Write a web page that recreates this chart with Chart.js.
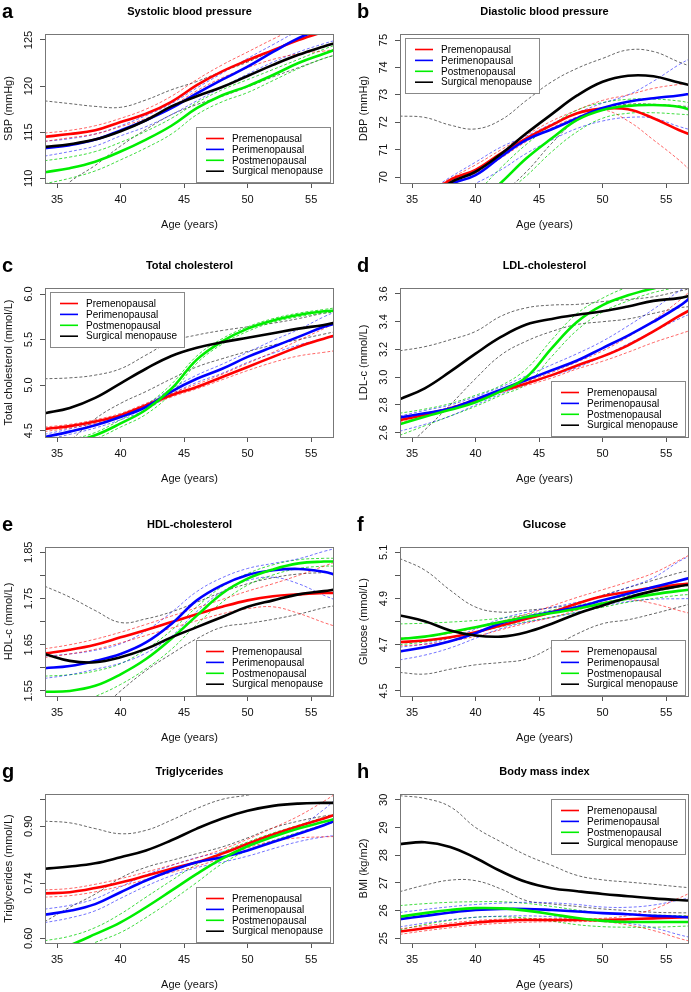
<!DOCTYPE html>
<html>
<head>
<meta charset="utf-8">
<script src="https://cdn.jsdelivr.net/npm/chart.js@4.4.1/dist/chart.umd.min.js"></script>
<style>
body { margin: 0; background: #fff; width: 691px; height: 992px; overflow: hidden; position: relative; }
canvas { position: absolute; }
</style>
</head>
<body>
<canvas id="pa" width="336" height="250" style="left:0;top:0"></canvas>
<canvas id="pb" width="336" height="250" style="left:355px;top:0"></canvas>
<canvas id="pc" width="336" height="250" style="left:0;top:254px"></canvas>
<canvas id="pd" width="336" height="250" style="left:355px;top:254px"></canvas>
<canvas id="pe" width="336" height="250" style="left:0;top:513px"></canvas>
<canvas id="pf" width="336" height="250" style="left:355px;top:513px"></canvas>
<canvas id="pg" width="336" height="250" style="left:0;top:760px"></canvas>
<canvas id="ph" width="336" height="250" style="left:355px;top:760px"></canvas>
<script>
var ages = [34, 36, 38, 40, 42, 44, 46, 48, 50, 52, 54, 56, 57];
var xTicks = [35, 40, 45, 50, 55];

var groupNames = ['Premenopausal', 'Perimenopausal', 'Postmenopausal', 'Surgical menopause'];
var groupColors = ['#ff0000', '#0000ff', '#00ee00', '#000000'];
var ciColors = ['rgba(255,0,0,0.6)', 'rgba(0,0,255,0.55)', 'rgba(0,210,0,0.75)', 'rgba(0,0,0,0.6)'];

// a - SBP
var sbpPre    = [114.5, 114.8, 115.2, 116.1, 117.0, 118.3, 120.1, 121.6, 122.8, 123.9, 125.0, 125.9, 126.3];
var sbpPreHi  = [114.9, 115.2, 115.7, 116.5, 117.5, 118.9, 120.7, 122.3, 123.7, 125.1, 126.4, 127.6, 128.2];
var sbpPreLo  = [114.0, 114.4, 114.8, 115.6, 116.5, 117.8, 119.5, 120.9, 122.0, 122.9, 123.5, 123.8, 124.0];
var sbpPeri   = [113.25, 113.6, 114.2, 115.2, 116.3, 117.6, 119.2, 120.7, 122.1, 123.7, 125.2, 126.3, 126.8];
var sbpPeriHi = [114.0, 114.3, 114.8, 115.7, 116.8, 118.1, 119.8, 121.4, 123.0, 124.5, 126.0, 127.3, 128.0];
var sbpPeriLo = [112.4, 112.9, 113.5, 114.6, 115.6, 116.9, 118.4, 119.9, 121.3, 122.6, 123.7, 124.6, 125.0];
var sbpPost   = [110.65, 111.1, 111.8, 112.9, 114.2, 115.7, 117.6, 119.0, 120.0, 121.2, 122.5, 123.5, 124.0];
var sbpPostHi = [111.9, 112.3, 112.9, 113.9, 115.1, 116.5, 118.2, 119.6, 120.7, 121.8, 122.9, 124.0, 124.5];
var sbpPostLo = [109.4, 110.0, 110.8, 112.0, 113.3, 114.8, 116.9, 118.3, 119.3, 120.6, 121.9, 123.0, 123.4];
var sbpSurg   = [113.4, 113.7, 114.2, 115.1, 116.3, 117.8, 118.9, 119.9, 121.1, 122.3, 123.4, 124.3, 124.7];
var sbpSurgHi = [118.4, 118.1, 117.8, 117.7, 118.5, 119.6, 120.5, 121.6, 122.6, 123.9, 125.2, 126.5, 127.1];
var sbpSurgLo = [107.0, 109.6, 111.4, 113.5, 115.3, 116.9, 118.0, 118.9, 119.9, 121.0, 122.0, 123.0, 123.4];

// b - DBP
var dbpPre    = [68.5, 69.2, 69.9, 70.27, 70.87, 71.42, 71.9, 72.33, 72.5, 72.48, 72.15, 71.72, 71.54];
var dbpPreHi  = [68.8, 69.4, 69.95, 70.45, 71.0, 71.54, 72.05, 72.45, 72.8, 73.0, 73.24, 73.38, 73.42];
var dbpPreLo  = [68.3, 69.0, 69.8, 70.15, 70.7, 71.3, 71.8, 72.2, 72.45, 72.05, 71.36, 70.63, 70.2];
var dbpPeri   = [68.7, 69.3, 69.75, 70.08, 70.75, 71.36, 71.75, 72.15, 72.52, 72.75, 72.88, 72.98, 73.05];
var dbpPeriHi = [68.9, 69.4, 70.0, 70.55, 71.1, 71.5, 71.95, 72.35, 72.7, 73.0, 73.5, 74.1, 74.35];
var dbpPeriLo = [68.2, 68.9, 69.4, 69.78, 70.27, 70.87, 71.36, 71.78, 72.05, 72.18, 72.15, 71.85, 71.72];
var dbpPost   = [66.6, 67.4, 68.2, 69.0, 69.8, 70.69, 71.42, 72.09, 72.45, 72.6, 72.63, 72.57, 72.45];
var dbpPostHi = [67.0, 67.8, 68.6, 69.4, 70.35, 71.2, 71.9, 72.45, 72.72, 72.84, 72.85, 72.78, 72.7];
var dbpPostLo = [65.5, 66.5, 67.4, 68.6, 69.3, 70.05, 70.93, 71.66, 72.15, 72.33, 72.35, 72.3, 72.27];
var dbpSurg   = [68.3, 69.1, 69.8, 70.2, 70.85, 71.6, 72.3, 72.98, 73.48, 73.7, 73.68, 73.45, 73.34];
var dbpSurgHi = [72.23, 72.18, 71.9, 71.76, 72.09, 72.8, 73.48, 73.97, 74.33, 74.64, 74.58, 74.2, 74.03];
var dbpSurgLo = [66.5, 67.4, 68.2, 68.9, 69.4, 70.2, 71.24, 72.09, 72.5, 72.66, 72.66, 72.6, 72.57];

// c - total cholesterol
var tcPre    = [4.52, 4.55, 4.60, 4.67, 4.78, 4.89, 4.98, 5.09, 5.20, 5.31, 5.42, 5.51, 5.55];
var tcPreHi  = [4.54, 4.57, 4.62, 4.69, 4.80, 4.91, 5.01, 5.12, 5.24, 5.36, 5.49, 5.62, 5.69];
var tcPreLo  = [4.49, 4.53, 4.58, 4.65, 4.76, 4.87, 4.96, 5.06, 5.16, 5.25, 5.32, 5.36, 5.38];
var tcPeri   = [4.43, 4.49, 4.56, 4.65, 4.76, 4.93, 5.07, 5.18, 5.31, 5.42, 5.53, 5.64, 5.68];
var tcPeriHi = [4.46, 4.52, 4.59, 4.68, 4.79, 4.96, 5.11, 5.23, 5.36, 5.49, 5.61, 5.75, 5.81];
var tcPeriLo = [4.40, 4.46, 4.53, 4.62, 4.73, 4.90, 5.03, 5.13, 5.25, 5.35, 5.44, 5.51, 5.53];
var tcPost   = [4.30, 4.37, 4.45, 4.58, 4.73, 4.96, 5.28, 5.48, 5.62, 5.71, 5.77, 5.81, 5.82];
var tcPostHi = [4.33, 4.40, 4.48, 4.62, 4.78, 5.01, 5.32, 5.51, 5.64, 5.73, 5.79, 5.83, 5.85];
var tcPostLo = [4.25, 4.33, 4.41, 4.54, 4.68, 4.91, 5.24, 5.45, 5.59, 5.69, 5.75, 5.79, 5.80];
var tcSurg   = [4.69, 4.75, 4.86, 5.02, 5.18, 5.32, 5.41, 5.47, 5.52, 5.57, 5.62, 5.66, 5.69];
var tcSurgHi = [5.07, 5.08, 5.11, 5.18, 5.33, 5.48, 5.55, 5.60, 5.64, 5.68, 5.73, 5.79, 5.81];
var tcSurgLo = [4.10, 4.38, 4.63, 4.80, 4.93, 5.07, 5.20, 5.29, 5.37, 5.44, 5.50, 5.56, 5.59];

// d - LDL-c
var ldlPre    = [2.69, 2.73, 2.775, 2.835, 2.90, 2.955, 3.015, 3.085, 3.15, 3.23, 3.33, 3.44, 3.49];
var ldlPreHi  = [2.70, 2.74, 2.785, 2.845, 2.91, 2.97, 3.035, 3.11, 3.19, 3.29, 3.41, 3.55, 3.63];
var ldlPreLo  = [2.675, 2.715, 2.765, 2.825, 2.89, 2.94, 2.995, 3.06, 3.115, 3.18, 3.25, 3.31, 3.34];
var ldlPeri   = [2.71, 2.74, 2.775, 2.84, 2.91, 2.98, 3.05, 3.12, 3.21, 3.30, 3.40, 3.51, 3.58];
var ldlPeriHi = [2.72, 2.76, 2.80, 2.86, 2.93, 3.01, 3.09, 3.17, 3.26, 3.37, 3.49, 3.62, 3.68];
var ldlPeriLo = [2.61, 2.66, 2.72, 2.80, 2.88, 2.95, 3.01, 3.07, 3.15, 3.24, 3.33, 3.42, 3.46];
var ldlPost   = [2.66, 2.715, 2.765, 2.82, 2.90, 3.00, 3.21, 3.40, 3.52, 3.59, 3.64, 3.68, 3.70];
var ldlPostHi = [2.74, 2.77, 2.81, 2.87, 2.94, 3.06, 3.27, 3.46, 3.57, 3.65, 3.70, 3.74, 3.76];
var ldlPostLo = [2.58, 2.65, 2.72, 2.79, 2.87, 2.95, 3.15, 3.34, 3.47, 3.55, 3.61, 3.65, 3.67];
var ldlSurg   = [2.84, 2.92, 3.04, 3.17, 3.29, 3.38, 3.42, 3.45, 3.475, 3.51, 3.55, 3.57, 3.59];
var ldlSurgHi = [3.19, 3.22, 3.27, 3.33, 3.44, 3.50, 3.52, 3.525, 3.545, 3.56, 3.58, 3.62, 3.64];
var ldlSurgLo = [2.45, 2.62, 2.80, 2.99, 3.16, 3.26, 3.33, 3.38, 3.40, 3.42, 3.46, 3.50, 3.51];

// e - HDL-c
var hdlPre    = [1.631, 1.639, 1.650, 1.666, 1.682, 1.699, 1.716, 1.732, 1.746, 1.755, 1.759, 1.762, 1.762];
var hdlPreHi  = [1.641, 1.650, 1.662, 1.677, 1.694, 1.712, 1.730, 1.748, 1.766, 1.782, 1.800, 1.820, 1.830];
var hdlPreLo  = [1.622, 1.630, 1.640, 1.654, 1.670, 1.686, 1.702, 1.717, 1.728, 1.732, 1.718, 1.698, 1.689];
var hdlPeri   = [1.599, 1.604, 1.615, 1.630, 1.655, 1.695, 1.746, 1.779, 1.801, 1.811, 1.814, 1.808, 1.801];
var hdlPeriHi = [1.625, 1.630, 1.638, 1.652, 1.680, 1.720, 1.765, 1.795, 1.815, 1.826, 1.836, 1.852, 1.859];
var hdlPeriLo = [1.577, 1.585, 1.597, 1.610, 1.632, 1.668, 1.722, 1.765, 1.789, 1.796, 1.782, 1.757, 1.746];
var hdlPost   = [1.548, 1.550, 1.561, 1.586, 1.619, 1.663, 1.713, 1.761, 1.793, 1.813, 1.826, 1.830, 1.830];
var hdlPostHi = [1.582, 1.585, 1.593, 1.609, 1.640, 1.681, 1.732, 1.776, 1.804, 1.823, 1.834, 1.837, 1.837];
var hdlPostLo = [1.500, 1.518, 1.538, 1.564, 1.598, 1.640, 1.694, 1.742, 1.779, 1.801, 1.815, 1.820, 1.820];
var hdlSurg   = [1.630, 1.615, 1.612, 1.623, 1.641, 1.666, 1.688, 1.710, 1.732, 1.746, 1.759, 1.766, 1.770];
var hdlSurgHi = [1.777, 1.753, 1.724, 1.698, 1.706, 1.721, 1.742, 1.764, 1.782, 1.795, 1.803, 1.806, 1.806];
var hdlSurgLo = [1.42, 1.46, 1.50, 1.55, 1.594, 1.630, 1.663, 1.688, 1.696, 1.705, 1.716, 1.730, 1.735];

// f - glucose
var gluPre    = [4.711, 4.718, 4.732, 4.754, 4.783, 4.812, 4.841, 4.878, 4.910, 4.929, 4.947, 4.960, 4.965];
var gluPreHi  = [4.728, 4.735, 4.750, 4.772, 4.801, 4.832, 4.868, 4.905, 4.938, 4.972, 5.010, 5.065, 5.093];
var gluPreLo  = [4.695, 4.702, 4.715, 4.736, 4.765, 4.793, 4.818, 4.850, 4.883, 4.895, 4.878, 4.848, 4.834];
var gluPeri   = [4.671, 4.689, 4.715, 4.750, 4.793, 4.820, 4.841, 4.863, 4.892, 4.921, 4.950, 4.977, 4.991];
var gluPeriHi = [4.689, 4.703, 4.728, 4.768, 4.812, 4.840, 4.862, 4.884, 4.912, 4.948, 4.990, 5.060, 5.088];
var gluPeriLo = [4.634, 4.655, 4.686, 4.728, 4.770, 4.797, 4.818, 4.841, 4.868, 4.887, 4.897, 4.899, 4.900];
var gluPost   = [4.725, 4.735, 4.754, 4.776, 4.798, 4.820, 4.837, 4.856, 4.878, 4.900, 4.918, 4.933, 4.939];
var gluPostHi = [4.790, 4.793, 4.798, 4.805, 4.815, 4.830, 4.850, 4.870, 4.892, 4.912, 4.930, 4.950, 4.958];
var gluPostLo = [4.700, 4.712, 4.730, 4.752, 4.778, 4.800, 4.820, 4.840, 4.862, 4.884, 4.900, 4.914, 4.918];
var gluSurg   = [4.827, 4.802, 4.762, 4.740, 4.735, 4.754, 4.791, 4.834, 4.870, 4.904, 4.933, 4.953, 4.961];
var gluSurgHi = [5.074, 5.023, 4.936, 4.863, 4.841, 4.849, 4.860, 4.878, 4.914, 4.947, 4.979, 5.011, 5.023];
var gluSurgLo = [4.580, 4.573, 4.594, 4.613, 4.623, 4.638, 4.689, 4.747, 4.791, 4.808, 4.834, 4.863, 4.878];

// g - triglycerides (axis is square-root scaled)
var tgPre    = [0.713, 0.716, 0.727, 0.742, 0.760, 0.779, 0.797, 0.821, 0.849, 0.876, 0.900, 0.923, 0.936];
var tgPreHi  = [0.722, 0.726, 0.737, 0.752, 0.770, 0.789, 0.809, 0.833, 0.862, 0.895, 0.930, 0.975, 1.00];
var tgPreLo  = [0.703, 0.707, 0.717, 0.732, 0.750, 0.769, 0.786, 0.809, 0.837, 0.857, 0.866, 0.869, 0.870];
var tgPeri   = [0.658, 0.668, 0.685, 0.716, 0.747, 0.774, 0.797, 0.811, 0.830, 0.854, 0.878, 0.903, 0.918];
var tgPeriHi = [0.672, 0.682, 0.699, 0.730, 0.762, 0.788, 0.810, 0.826, 0.846, 0.870, 0.897, 0.950, 0.984];
var tgPeriLo = [0.638, 0.650, 0.668, 0.700, 0.732, 0.760, 0.782, 0.797, 0.814, 0.835, 0.855, 0.869, 0.873];
var tgPost   = [0.560, 0.583, 0.610, 0.639, 0.677, 0.720, 0.765, 0.807, 0.842, 0.869, 0.893, 0.913, 0.923];
var tgPostHi = [0.594, 0.605, 0.626, 0.660, 0.703, 0.747, 0.791, 0.825, 0.854, 0.880, 0.903, 0.926, 0.936];
var tgPostLo = [0.540, 0.565, 0.590, 0.614, 0.651, 0.694, 0.742, 0.793, 0.830, 0.858, 0.882, 0.904, 0.913];
var tgSurg   = [0.779, 0.785, 0.794, 0.811, 0.830, 0.859, 0.893, 0.923, 0.946, 0.961, 0.968, 0.970, 0.970];
var tgSurgHi = [0.915, 0.910, 0.893, 0.878, 0.888, 0.918, 0.953, 0.981, 0.994, 1.010, 1.020, 1.030, 1.035];
var tgSurgLo = [0.640, 0.677, 0.711, 0.754, 0.783, 0.802, 0.821, 0.840, 0.866, 0.895, 0.915, 0.930, 0.935];

// h - BMI
var bmiPre    = [25.24, 25.36, 25.47, 25.57, 25.63, 25.66, 25.66, 25.66, 25.66, 25.69, 25.72, 25.75, 25.78];
var bmiPreHi  = [25.34, 25.45, 25.55, 25.64, 25.69, 25.71, 25.71, 25.71, 25.72, 25.82, 26.05, 26.45, 26.66];
var bmiPreLo  = [25.14, 25.27, 25.38, 25.48, 25.54, 25.58, 25.60, 25.60, 25.60, 25.48, 25.28, 25.00, 24.88];
var bmiPeri   = [25.69, 25.81, 25.93, 26.02, 26.06, 26.06, 26.02, 25.97, 25.91, 25.87, 25.81, 25.78, 25.75];
var bmiPeriHi = [25.93, 26.04, 26.14, 26.22, 26.27, 26.30, 26.28, 26.22, 26.13, 26.12, 26.20, 26.38, 26.48];
var bmiPeriLo = [25.41, 25.55, 25.67, 25.76, 25.80, 25.81, 25.78, 25.72, 25.64, 25.54, 25.38, 25.13, 25.02];
var bmiPost   = [25.78, 25.91, 26.02, 26.09, 26.08, 26.00, 25.87, 25.73, 25.63, 25.59, 25.59, 25.59, 25.59];
var bmiPostHi = [26.18, 26.25, 26.30, 26.32, 26.32, 26.26, 26.15, 26.02, 25.91, 25.86, 25.84, 25.82, 25.81];
var bmiPostLo = [25.30, 25.50, 25.65, 25.76, 25.78, 25.73, 25.62, 25.49, 25.42, 25.40, 25.40, 25.43, 25.45];
var bmiSurg   = [28.40, 28.47, 28.30, 27.90, 27.42, 27.03, 26.81, 26.70, 26.60, 26.52, 26.44, 26.38, 26.36];
var bmiSurgHi = [30.15, 30.05, 29.75, 29.00, 28.48, 28.00, 27.63, 27.27, 27.11, 27.03, 26.95, 26.86, 26.82];
var bmiSurgLo = [26.68, 26.92, 27.10, 27.08, 26.78, 26.36, 26.24, 26.15, 26.06, 26.00, 25.94, 25.92, 25.92];

// y tick values and labels ('' = tick without label, like R drops them)
var sbpTicks = [110, 115, 120, 125];
var sbpLabels = ['110', '115', '120', '125'];
var dbpTicks = [70, 71, 72, 73, 74, 75];
var dbpLabels = ['70', '71', '72', '73', '74', '75'];
var tcTicks = [4.5, 5.0, 5.5, 6.0];
var tcLabels = ['4.5', '5.0', '5.5', '6.0'];
var ldlTicks = [2.6, 2.8, 3.0, 3.2, 3.4, 3.6];
var ldlLabels = ['2.6', '2.8', '3.0', '3.2', '3.4', '3.6'];
var hdlTicks = [1.55, 1.60, 1.65, 1.70, 1.75, 1.80, 1.85];
var hdlLabels = ['1.55', '', '1.65', '', '1.75', '', '1.85'];
var gluTicks = [4.5, 4.6, 4.7, 4.8, 4.9, 5.0, 5.1];
var gluLabels = ['4.5', '', '4.7', '', '4.9', '', '5.1'];
var tgTicks = [0.60, 0.74, 0.90, 0.98];
var tgLabels = ['0.60', '0.74', '0.90', ''];
var bmiTicks = [25, 26, 27, 28, 29, 30];
var bmiLabels = ['25', '26', '27', '28', '29', '30'];

var FONT = '"Liberation Sans", Arial, Helvetica, sans-serif';
Chart.defaults.font.family = FONT;

var panels = [
    { id: 'pa', letter: 'a', title: 'Systolic blood pressure', ytitle: 'SBP (mmHg)', ymin: 109.49, ymax: 125.65,
      ticks: sbpTicks, labels: sbpLabels, legend: 'br',
      series: [[sbpPre, sbpPreLo, sbpPreHi], [sbpPeri, sbpPeriLo, sbpPeriHi], [sbpPost, sbpPostLo, sbpPostHi], [sbpSurg, sbpSurgLo, sbpSurgHi]] },
    { id: 'pb', letter: 'b', title: 'Diastolic blood pressure', ytitle: 'DBP (mmHg)', ymin: 69.79, ymax: 75.22,
      ticks: dbpTicks, labels: dbpLabels, legend: 'tl',
      series: [[dbpPre, dbpPreLo, dbpPreHi], [dbpPeri, dbpPeriLo, dbpPeriHi], [dbpPost, dbpPostLo, dbpPostHi], [dbpSurg, dbpSurgLo, dbpSurgHi]] },
    { id: 'pc', letter: 'c', title: 'Total cholesterol', ytitle: 'Total cholesterol (mmol/L)', ymin: 4.431, ymax: 6.066,
      ticks: tcTicks, labels: tcLabels, legend: 'tl',
      series: [[tcPre, tcPreLo, tcPreHi], [tcPeri, tcPeriLo, tcPeriHi], [tcPost, tcPostLo, tcPostHi], [tcSurg, tcSurgLo, tcSurgHi]] },
    { id: 'pd', letter: 'd', title: 'LDL-cholesterol', ytitle: 'LDL-c (mmol/L)', ymin: 2.569, ymax: 3.643,
      ticks: ldlTicks, labels: ldlLabels, legend: 'br',
      series: [[ldlPre, ldlPreLo, ldlPreHi], [ldlPeri, ldlPeriLo, ldlPeriHi], [ldlPost, ldlPostLo, ldlPostHi], [ldlSurg, ldlSurgLo, ldlSurgHi]] },
    { id: 'pe', letter: 'e', title: 'HDL-cholesterol', ytitle: 'HDL-c (mmol/L)', ymin: 1.539, ymax: 1.8615,
      ticks: hdlTicks, labels: hdlLabels, legend: 'br',
      series: [[hdlPre, hdlPreLo, hdlPreHi], [hdlPeri, hdlPeriLo, hdlPeriHi], [hdlPost, hdlPostLo, hdlPostHi], [hdlSurg, hdlSurgLo, hdlSurgHi]] },
    { id: 'pf', letter: 'f', title: 'Glucose', ytitle: 'Glucose (mmol/L)', ymin: 4.478, ymax: 5.123,
      ticks: gluTicks, labels: gluLabels, legend: 'br',
      series: [[gluPre, gluPreLo, gluPreHi], [gluPeri, gluPeriLo, gluPeriHi], [gluPost, gluPostLo, gluPostHi], [gluSurg, gluSurgLo, gluSurgHi]] },
    { id: 'pg', letter: 'g', title: 'Triglycerides', ytitle: 'Triglycerides (mmol/L)', ymin: 0.5887, ymax: 0.9975,
      ticks: tgTicks, labels: tgLabels, legend: 'br', sqrt: true,
      series: [[tgPre, tgPreLo, tgPreHi], [tgPeri, tgPeriLo, tgPeriHi], [tgPost, tgPostLo, tgPostHi], [tgSurg, tgSurgLo, tgSurgHi]] },
    { id: 'ph', letter: 'h', title: 'Body mass index', ytitle: 'BMI (kg/m2)', ymin: 24.83, ymax: 30.21,
      ticks: bmiTicks, labels: bmiLabels, legend: 'tr',
      series: [[bmiPre, bmiPreLo, bmiPreHi], [bmiPeri, bmiPeriLo, bmiPeriHi], [bmiPost, bmiPostLo, bmiPostHi], [bmiSurg, bmiSurgLo, bmiSurgHi]] }
];

// box, panel letter, title and legend, R style
var framePlugin = {
    id: 'frame',
    afterDatasetsDraw: function(chart) {
        var o = chart.options.plugins.frame;
        var ctx = chart.ctx, a = chart.chartArea;
        ctx.save();
        ctx.strokeStyle = '#777';
        ctx.lineWidth = 1;
        ctx.strokeRect(Math.round(a.left) + 0.5, Math.round(a.top) + 0.5, Math.round(a.right - a.left) - 1, Math.round(a.bottom - a.top));

        ctx.fillStyle = '#000';
        ctx.font = 'bold 20px ' + FONT;
        ctx.textAlign = 'left';
        ctx.textBaseline = 'alphabetic';
        ctx.fillText(o.letter, 2, 18);

        ctx.font = 'bold 11px ' + FONT;
        ctx.textAlign = 'center';
        ctx.textBaseline = 'middle';
        ctx.fillText(o.title, (a.left + a.right) / 2, 11.5);

        var w = 134, h = 55, lx, ly;
        if (o.legend == 'tl') { lx = a.left + 5; ly = a.top + 4; }
        else if (o.legend == 'tr') { lx = a.right - 4 - w; ly = a.top + 5; }
        else { lx = a.right - 4 - w; ly = a.bottom - 1 - h; }
        lx = Math.round(lx); ly = Math.round(ly);
        ctx.fillStyle = '#fff';
        ctx.fillRect(lx, ly, w, h);
        ctx.strokeStyle = '#888';
        ctx.strokeRect(lx + 0.5, ly + 0.5, w, h);
        ctx.font = '10px ' + FONT;
        ctx.textAlign = 'left';
        for (var i = 0; i < groupNames.length; i++) {
            var cy = ly + 11.5 + i * 10.9;
            ctx.strokeStyle = groupColors[i];
            ctx.lineWidth = 1.6;
            ctx.beginPath();
            ctx.moveTo(lx + 10, cy);
            ctx.lineTo(lx + 28, cy);
            ctx.stroke();
            ctx.fillStyle = '#000';
            ctx.fillText(groupNames[i], lx + 36, cy + 0.5);
        }
        ctx.restore();
    }
};

var measure = document.createElement('canvas').getContext('2d');
measure.font = '11px ' + FONT;

panels.forEach(function(p) {
    var tf = p.sqrt ? Math.sqrt : function(v) { return v; };
    var datasets = [];
    p.series.forEach(function(s, g) {
        [1, 2].forEach(function(k) {
            datasets.push({
                data: ages.map(function(x, i) { return { x: x, y: tf(s[k][i]) }; }),
                borderColor: ciColors[g],
                borderWidth: 1,
                borderDash: [3, 2],
                pointRadius: 0,
                tension: 0.4,
                clip: 0,
                order: 20
            });
        });
        datasets.push({
            label: groupNames[g],
            data: ages.map(function(x, i) { return { x: x, y: tf(s[0][i]) }; }),
            borderColor: groupColors[g],
            borderWidth: 2.6,
            pointRadius: 0,
            tension: 0.4,
            clip: 0,
            order: 10 - g
        });
    });

    var yVals = p.ticks.map(tf);
    var widest = Math.max.apply(null, p.labels.map(function(t) { return measure.measureText(t).width; }));
    var yPad = 11 - widest / 2;

    new Chart(document.getElementById(p.id).getContext('2d'), {
        type: 'line',
        data: { datasets: datasets },
        options: {
            responsive: false,
            animation: false,
            devicePixelRatio: 1,
            layout: { padding: { top: 34, right: 2, left: 0, bottom: 0 } },
            plugins: {
                legend: { display: false },
                tooltip: { enabled: false },
                frame: { letter: p.letter, title: p.title, legend: p.legend }
            },
            scales: {
                x: {
                    type: 'linear',
                    min: 34.05,
                    max: 56.8,
                    bounds: 'data',
                    afterBuildTicks: function(s) { s.ticks = xTicks.map(function(v) { return { value: v }; }); },
                    afterFit: function(s) { s.height = 67; },
                    grid: { drawOnChartArea: false, drawTicks: true, tickLength: 5, color: '#555' },
                    border: { display: false },
                    ticks: { color: '#111', font: { size: 11 }, padding: 5, maxRotation: 0, autoSkip: false },
                    title: { display: true, text: 'Age (years)', color: '#111', font: { size: 11 }, padding: { top: 18, bottom: 18 } }
                },
                y: {
                    type: 'linear',
                    min: p.sqrt ? Math.sqrt(p.ymin) : p.ymin,
                    max: p.sqrt ? Math.sqrt(p.ymax) : p.ymax,
                    bounds: 'data',
                    afterBuildTicks: function(s) { s.ticks = yVals.map(function(v) { return { value: v }; }); },
                    afterFit: function(s) { s.width = 45; },
                    grid: { drawOnChartArea: false, drawTicks: true, tickLength: 5, color: '#555' },
                    border: { display: false },
                    ticks: {
                        color: '#111', font: { size: 11 }, padding: yPad, autoSkip: false,
                        minRotation: 90, maxRotation: 90, crossAlign: 'center',
                        callback: function(v, i) { return p.labels[i]; }
                    },
                    title: { display: true, text: p.ytitle, color: '#111', font: { size: 11 }, padding: { top: 2, bottom: 2 } }
                }
            }
        },
        plugins: [framePlugin]
    });
});
</script>
</body>
</html>
